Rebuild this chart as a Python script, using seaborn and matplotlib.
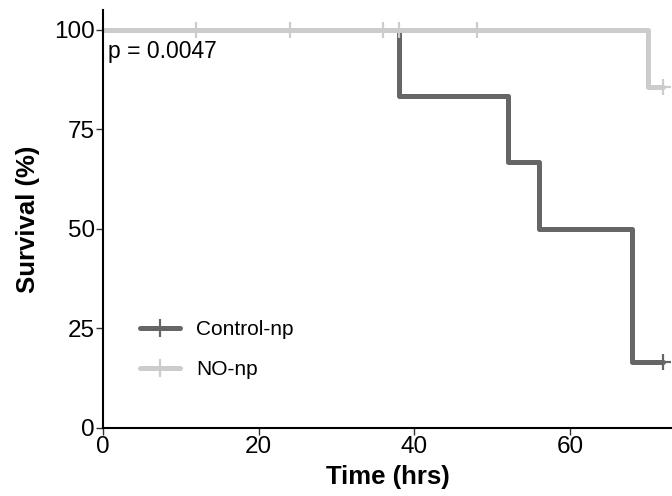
import pandas as pd
import seaborn as sns
import matplotlib.pyplot as plt
from matplotlib.lines import Line2D

# Kaplan-Meier step values
ctrl_time = [0, 38, 52, 56, 68, 72]
ctrl_surv = [100, 83.3, 66.7, 50.0, 16.7, 16.7]
no_time = [0, 70, 72]
no_surv = [100, 100 * 6 / 7, 100 * 6 / 7]

# censored observations
ctrl_cens_time = [72]
ctrl_cens_surv = [16.7]
no_cens_time = [12, 24, 36, 38, 48, 72]
no_cens_surv = [100, 100, 100, 100, 100, 100 * 6 / 7]

groups = ["Control-np", "NO-np"]
colors = ["#666666", "#cccccc"]
p_label = "p = 0.0047"

if __name__ == "__main__":
    sns.set_style("ticks")
    plt.rcParams["font.family"] = ["Liberation Sans", "DejaVu Sans"]
    plt.rcParams["text.color"] = "black"
    plt.rcParams["axes.labelcolor"] = "black"

    df_curve = pd.concat(
        [
            pd.DataFrame({"Time": ctrl_time, "Survival": ctrl_surv, "Group": groups[0]}),
            pd.DataFrame({"Time": no_time, "Survival": no_surv, "Group": groups[1]}),
        ],
        ignore_index=True,
    )
    df_cens = pd.concat(
        [
            pd.DataFrame({"Time": ctrl_cens_time, "Survival": ctrl_cens_surv, "Group": groups[0]}),
            pd.DataFrame({"Time": no_cens_time, "Survival": no_cens_surv, "Group": groups[1]}),
        ],
        ignore_index=True,
    )
    pal = dict(zip(groups, colors))

    fig = plt.figure(figsize=(6.72, 4.96), dpi=100)
    ax = fig.add_axes([103 / 672, 68 / 496, 569 / 672, 418 / 496])

    # dark curve first, the light one covers it along the 100% line
    sns.lineplot(
        df_curve,
        x="Time",
        y="Survival",
        hue="Group",
        hue_order=groups,
        palette=pal,
        drawstyle="steps-post",
        linewidth=3.6,
        estimator=None,
        legend=False,
        ax=ax,
    )
    for g in groups:
        sub = df_cens[df_cens["Group"] == g]
        ax.plot(
            sub["Time"], sub["Survival"], linestyle="none", marker="+",
            markersize=11, markeredgewidth=1.6, color=pal[g], zorder=3,
        )

    ax.set_xlim(0, 73.1)
    ax.set_ylim(0, 105)
    ax.set_xticks([0, 20, 40, 60])
    ax.set_yticks([0, 25, 50, 75, 100])
    ax.tick_params(axis="both", labelsize=17.5, length=5, width=1, color="#333333",
                   labelcolor="black", pad=1)
    ax.set_xlabel("Time (hrs)", fontsize=18.5, fontweight="bold", labelpad=5)
    ax.set_ylabel("Survival (%)", fontsize=18.5, fontweight="bold", labelpad=10)
    sns.despine(ax=ax)
    for sp in ["left", "bottom"]:
        ax.spines[sp].set_linewidth(1.5)
        ax.spines[sp].set_color("black")

    ax.text(0.7, 94.5, p_label, fontsize=16.5, va="center", ha="left")

    handles = [
        Line2D([], [], color=c, linewidth=3.6, marker="+", markersize=13, markeredgewidth=1.6)
        for c in colors
    ]
    ax.legend(
        handles,
        groups,
        loc="center left",
        bbox_to_anchor=(0.065, 0.188),
        frameon=False,
        fontsize=15,
        handlelength=1.9,
        handletextpad=0.8,
        labelspacing=1.0,
        borderpad=0,
        borderaxespad=0,
    )

    plt.savefig("out.png", dpi=100)
    plt.close()
